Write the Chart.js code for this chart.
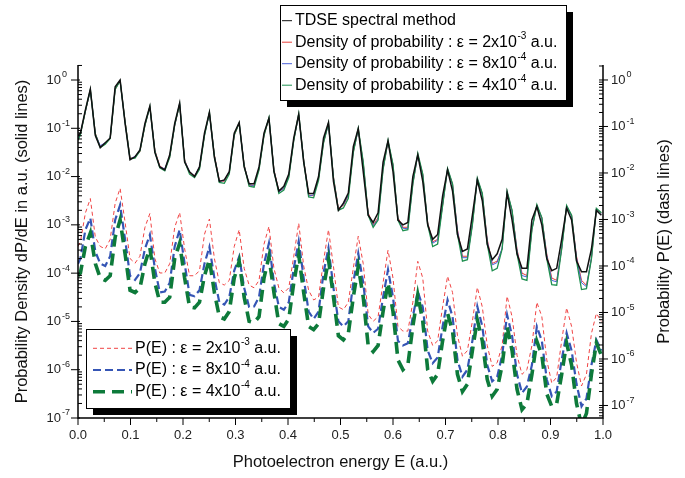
<!DOCTYPE html>
<html>
<head>
<meta charset="utf-8">
<script src="https://cdn.jsdelivr.net/npm/chart.js@4.4.1/dist/chart.umd.min.js"></script>
<style>
  html, body { margin: 0; padding: 0; background: #fff; }
  #wrap { width: 685px; height: 478px; }
</style>
</head>
<body>
<div id="wrap"><canvas id="plot" width="685" height="478"></canvas></div>
<script>
// photoelectron energy grid (a.u.)
const energies = [
  0, 0.0046, 0.0141, 0.0235, 0.0330, 0.0424, 0.0519, 0.0613, 0.0708, 0.0802, 0.0897,
  0.0991, 0.1086, 0.1180, 0.1275, 0.1369, 0.1464, 0.1558, 0.1653, 0.1747, 0.1842,
  0.1936, 0.2031, 0.2125, 0.2220, 0.2314, 0.2409, 0.2503, 0.2598, 0.2692, 0.2787,
  0.2881, 0.2976, 0.3070, 0.3165, 0.3259, 0.3354, 0.3448, 0.3543, 0.3637, 0.3732,
  0.3826, 0.3921, 0.4015, 0.4110, 0.4204, 0.4299, 0.4393, 0.4488, 0.4582, 0.4677,
  0.4771, 0.4866, 0.4960, 0.5055, 0.5149, 0.5244, 0.5338, 0.5433, 0.5527, 0.5622,
  0.5716, 0.5811, 0.5905, 0.6000, 0.6094, 0.6189, 0.6283, 0.6378, 0.6472, 0.6567,
  0.6661, 0.6756, 0.6850, 0.6945, 0.7039, 0.7134, 0.7228, 0.7323, 0.7417, 0.7512,
  0.7606, 0.7701, 0.7795, 0.7890, 0.7984, 0.8079, 0.8173, 0.8268, 0.8362, 0.8457,
  0.8551, 0.8646, 0.8740, 0.8835, 0.8929, 0.9024, 0.9118, 0.9213, 0.9307, 0.9402,
  0.9496, 0.9591, 0.9685, 0.9780, 0.9874, 0.9969
];

// all series below are stored as log10 of the value

// dP/dE, TDSE spectral method (left axis)
const tdseLog = [
  -1.15, -1.1, -0.62, -0.19, -1.15, -1.4, -1.3, -1.2, -0.14, 0, -0.9,
  -1.65, -1.59, -1.45, -0.9, -0.54, -1.5, -1.8, -1.86, -1.55, -0.9,
  -0.48, -1.7, -1.9, -2.0, -1.8, -1.1, -0.67, -1.6, -2.1, -2.07,
  -1.9, -1.1, -0.88, -1.8, -2.15, -2.15, -1.8, -1.1, -0.79, -1.9,
  -2.3, -2.2, -1.95, -1.2, -0.71, -1.7, -2.35, -2.35, -2.0, -1.2,
  -0.88, -2.1, -2.7, -2.55, -2.34, -1.38, -1.01, -1.9, -2.8, -2.95,
  -2.75, -1.7, -1.26, -1.9, -2.9, -3.0, -2.95, -2.0, -1.55, -2.1,
  -3.0, -3.3, -3.2, -2.4, -1.86, -2.3, -3.2, -3.55, -3.5, -2.8,
  -2.07, -2.5, -3.4, -3.72, -3.6, -3.3, -2.34, -2.9, -3.6, -3.9,
  -3.9, -2.9, -2.62, -3.0, -3.7, -3.95, -3.9, -3.3, -2.65, -2.9,
  -3.75, -3.97, -3.97, -3.5, -2.7, -2.8
];

// dP/dE, eps = 2e-3
const densRedLog = [
  -1.2, -1.12, -0.66, -0.2, -1.1, -1.38, -1.32, -1.22, -0.2, -0.02, -0.85,
  -1.62, -1.6, -1.48, -0.95, -0.55, -1.45, -1.78, -1.85, -1.6, -0.95,
  -0.5, -1.65, -1.92, -1.98, -1.82, -1.15, -0.68, -1.55, -2.08, -2.1,
  -1.92, -1.15, -0.9, -1.75, -2.18, -2.18, -1.85, -1.15, -0.8, -1.85,
  -2.3, -2.25, -2.0, -1.25, -0.72, -1.65, -2.38, -2.4, -2.05, -1.3,
  -0.9, -2.0, -2.65, -2.6, -2.4, -1.5, -1.02, -1.7, -2.75, -3.0,
  -2.85, -1.85, -1.28, -1.75, -2.85, -3.05, -3.05, -2.15, -1.55, -1.95,
  -2.95, -3.35, -3.3, -2.6, -1.85, -2.15, -3.1, -3.65, -3.65, -3.0,
  -2.05, -2.35, -3.3, -3.8, -3.75, -3.5, -2.32, -2.7, -3.5, -4.0,
  -4.05, -3.1, -2.6, -2.85, -3.6, -4.1, -4.15, -3.5, -2.62, -2.8,
  -3.65, -4.15, -4.25, -3.7, -2.68, -2.75
];

// dP/dE, eps = 8e-4
const densBlueLog = [
  -1.22, -1.1, -0.65, -0.21, -1.12, -1.36, -1.3, -1.2, -0.18, -0.01, -0.88,
  -1.64, -1.58, -1.46, -0.93, -0.56, -1.47, -1.8, -1.84, -1.58, -0.94,
  -0.49, -1.67, -1.9, -1.99, -1.8, -1.14, -0.69, -1.57, -2.1, -2.08,
  -1.9, -1.13, -0.89, -1.77, -2.16, -2.2, -1.83, -1.13, -0.79, -1.87,
  -2.32, -2.24, -1.98, -1.24, -0.73, -1.67, -2.4, -2.38, -2.03, -1.28,
  -0.91, -2.02, -2.68, -2.58, -2.38, -1.48, -1.03, -1.72, -2.78, -3.02,
  -2.88, -1.83, -1.27, -1.77, -2.88, -3.07, -3.08, -2.13, -1.56, -1.97,
  -2.98, -3.38, -3.32, -2.58, -1.84, -2.17, -3.12, -3.68, -3.68, -2.98,
  -2.04, -2.37, -3.33, -3.83, -3.78, -3.48, -2.31, -2.72, -3.53, -4.05,
  -4.08, -3.08, -2.59, -2.87, -3.63, -4.15, -4.18, -3.48, -2.61, -2.82,
  -3.68, -4.2, -4.28, -3.68, -2.67, -2.77
];

// dP/dE, eps = 4e-4
const densGreenLog = [
  -1.25, -1.13, -0.64, -0.2, -1.12, -1.4, -1.33, -1.21, -0.19, -0.02, -0.87,
  -1.63, -1.62, -1.47, -0.94, -0.55, -1.48, -1.82, -1.88, -1.6, -0.93,
  -0.5, -1.68, -1.95, -2.02, -1.85, -1.15, -0.67, -1.58, -2.12, -2.14,
  -1.95, -1.14, -0.89, -1.78, -2.2, -2.22, -1.86, -1.15, -0.78, -1.88,
  -2.35, -2.28, -2.02, -1.25, -0.7, -1.68, -2.42, -2.44, -2.08, -1.3,
  -0.89, -2.03, -2.7, -2.65, -2.45, -1.5, -1.0, -1.7, -2.8, -3.05,
  -2.9, -1.85, -1.25, -1.75, -2.9, -3.12, -3.1, -2.15, -1.52, -1.95,
  -3.0, -3.45, -3.4, -2.6, -1.83, -2.15, -3.2, -3.75, -3.72, -3.0,
  -2.03, -2.35, -3.4, -3.95, -3.9, -3.5, -2.3, -2.7, -3.6, -4.12,
  -4.15, -3.1, -2.58, -2.85, -3.7, -4.24, -4.25, -3.5, -2.6, -2.8,
  -3.75, -4.34, -4.32, -3.7, -2.66, -2.75
];

// P(E) on the right axis, eps = 2e-3
const probRedLog = [
  -3.58, -3.48, -2.86, -2.55, -3.38, -3.58, -3.63, -3.43, -2.65, -2.33, -3.06,
  -3.84, -3.94, -3.79, -3.17, -2.87, -3.84, -4.15, -4.15, -3.95, -3.17,
  -2.85, -3.63, -4.21, -4.21, -4.10, -3.32, -2.99, -3.84, -4.36, -4.41,
  -4.31, -3.58, -3.22, -4.05, -4.41, -4.47, -4.31, -3.53, -3.15, -4.05,
  -4.47, -4.58, -4.47, -3.79, -3.08, -4.00, -4.52, -4.73, -4.67, -3.89,
  -3.22, -4.01, -4.88, -4.94, -4.78, -4.05, -3.36, -3.95, -5.04, -5.19,
  -5.09, -4.36, -3.66, -4.26, -5.30, -5.40, -5.40, -4.78, -3.90, -4.26,
  -5.40, -5.71, -5.61, -4.88, -4.22, -4.57, -5.50, -5.94, -5.82, -5.19,
  -4.46, -4.88, -5.71, -6.16, -6.08, -5.71, -4.65, -5.09, -5.92, -6.33,
  -6.23, -5.71, -4.78, -5.09, -6.02, -6.52, -6.39, -5.61, -4.90, -5.30,
  -6.08, -6.58, -6.33, -5.45, -5.02, -5.19
];

// P(E), eps = 8e-4
const probBlueLog = [
  -3.95, -3.84, -3.22, -2.97, -3.69, -3.95, -4.00, -3.79, -3.01, -2.69, -3.43,
  -4.21, -4.30, -4.15, -3.63, -3.33, -4.05, -4.57, -4.55, -4.36, -3.58,
  -3.22, -3.95, -4.62, -4.65, -4.52, -3.95, -3.59, -4.26, -4.78, -4.83,
  -4.67, -4.10, -3.80, -4.47, -4.88, -4.87, -4.67, -3.95, -3.51, -4.36,
  -4.88, -4.94, -4.78, -4.05, -3.47, -4.26, -4.98, -5.14, -4.98, -4.15,
  -3.61, -4.47, -5.19, -5.30, -5.19, -4.36, -3.73, -4.36, -5.30, -5.44,
  -5.35, -4.67, -4.08, -4.67, -5.61, -5.71, -5.66, -5.09, -4.55, -4.88,
  -5.82, -6.09, -5.97, -5.30, -4.73, -5.09, -6.02, -6.38, -6.23, -5.61,
  -4.87, -5.30, -6.13, -6.48, -6.39, -5.92, -5.05, -5.50, -6.33, -6.73,
  -6.59, -6.13, -5.30, -5.61, -6.44, -6.80, -6.70, -6.02, -5.44, -5.82,
  -6.54, -7.02, -6.85, -6.13, -5.59, -5.82
];

// P(E), eps = 4e-4
const probGreenLog = [
  -4.21, -4.15, -3.58, -3.29, -3.95, -4.26, -4.31, -4.21, -3.38, -3.01, -3.74,
  -4.52, -4.57, -4.47, -3.95, -3.61, -4.36, -4.78, -4.78, -4.67, -3.84,
  -3.51, -4.26, -4.88, -4.90, -4.78, -4.21, -3.86, -4.57, -5.09, -5.14,
  -4.98, -4.26, -3.90, -4.67, -5.19, -5.22, -5.09, -4.26, -3.80, -4.57,
  -5.24, -5.30, -5.14, -4.36, -3.76, -4.57, -5.30, -5.37, -5.24, -4.47,
  -3.86, -4.67, -5.50, -5.59, -5.45, -4.67, -4.01, -4.67, -5.71, -5.84,
  -5.71, -4.98, -4.36, -4.98, -6.02, -6.23, -6.13, -5.30, -4.62, -5.19,
  -6.23, -6.48, -6.33, -5.61, -5.02, -5.40, -6.33, -6.70, -6.54, -5.82,
  -5.16, -5.61, -6.44, -6.80, -6.65, -6.13, -5.30, -5.82, -6.65, -7.09,
  -6.96, -6.33, -5.62, -5.92, -6.75, -7.02, -6.96, -6.33, -5.66, -6.13,
  -6.96, -7.43, -7.17, -6.33, -5.66, -5.92
];

// axis ticks
const xTicks = [0, 0.1, 0.2, 0.3, 0.4, 0.5, 0.6, 0.7, 0.8, 0.9, 1.0];
const xTickLabels = ["0.0", "0.1", "0.2", "0.3", "0.4", "0.5", "0.6", "0.7", "0.8", "0.9", "1.0"];
const xMinorTicks = [0.05, 0.15, 0.25, 0.35, 0.45, 0.55, 0.65, 0.75, 0.85, 0.95];
const decadeExps = [0, -1, -2, -3, -4, -5, -6, -7];

const leftTitle = "Probability Density dP/dE in a.u. (solid lines)";
const rightTitle = "Probability P(E) (dash lines)";
const xTitle = "Photoelectron energy E (a.u.)";

// legend texts: [before superscript, superscript, after]
const solidLegend = [
  ["TDSE spectral method", "", ""],
  ["Density of probability : \u03b5 = 2x10", "-3", " a.u."],
  ["Density of probability : \u03b5 = 8x10", "-4", " a.u."],
  ["Density of probability : \u03b5 = 4x10", "-4", " a.u."]
];
const dashLegend = [
  ["P(E) : \u03b5 = 2x10", "-3", " a.u."],
  ["P(E) : \u03b5 = 8x10", "-4", " a.u."],
  ["P(E) : \u03b5 = 4x10", "-4", " a.u."]
];

const FONT = '"Liberation Sans", Arial, sans-serif';

const style = {
  black: { color: "#111111", width: 1.5, dash: [] },
  red: { color: "#e8403a", width: 1, dash: [] },
  blue: { color: "#4a62d8", width: 1, dash: [] },
  green: { color: "#1f9050", width: 1.3, dash: [] },
  redDash: { color: "#f04444", width: 1, dash: [4, 3] },
  blueDash: { color: "#3555b5", width: 2.2, dash: [8, 4] },
  greenDash: { color: "#0d7a3a", width: 3.6, dash: [12, 7] }
};

function toPoints(logs) {
  return logs.map((v, i) => ({ x: energies[i], y: Math.pow(10, v) }));
}

function lineSet(logs, st, axis) {
  return {
    data: toPoints(logs),
    yAxisID: axis,
    borderColor: st.color,
    borderWidth: st.width,
    borderDash: st.dash,
    pointRadius: 0,
    tension: 0,
    fill: false
  };
}

function seg(ctx, x1, y1, x2, y2) {
  ctx.beginPath();
  ctx.moveTo(x1, y1);
  ctx.lineTo(x2, y2);
  ctx.stroke();
}

// text with a raised exponent part
function richText(ctx, x, y, parts, size) {
  const [a, sup, b] = parts;
  ctx.textAlign = "left";
  ctx.textBaseline = "middle";
  ctx.font = size + "px " + FONT;
  ctx.fillText(a, x, y);
  x += ctx.measureText(a).width;
  if (sup) {
    ctx.font = Math.round(size * 0.62) + "px " + FONT;
    ctx.fillText(sup, x + 0.5, y - size * 0.38);
    x += ctx.measureText(sup).width + 0.5;
    ctx.font = size + "px " + FONT;
    ctx.fillText(b, x, y);
  }
}

function legendBox(ctx, x, y, w, h) {
  ctx.fillStyle = "#000";
  ctx.fillRect(x + 7, y + 7, w, h);
  ctx.fillStyle = "#fff";
  ctx.fillRect(x, y, w, h);
  ctx.strokeStyle = "#000";
  ctx.lineWidth = 1;
  ctx.setLineDash([]);
  ctx.strokeRect(x + 0.5, y + 0.5, w, h);
}

function sample(ctx, st, x1, x2, y) {
  ctx.strokeStyle = st.color;
  ctx.lineWidth = st.width;
  ctx.setLineDash(st.dash);
  seg(ctx, x1, y, x2, y);
  ctx.setLineDash([]);
}

const decor = {
  id: "decor",
  afterDraw(chart) {
    const ctx = chart.ctx;
    const a = chart.chartArea;
    const xs = chart.scales.x, yl = chart.scales.y, yr = chart.scales.y2;
    ctx.save();
    ctx.strokeStyle = "#000";
    ctx.fillStyle = "#222";
    ctx.lineWidth = 1;

    // x axis ticks and labels
    ctx.font = "13px " + FONT;
    ctx.textAlign = "center";
    ctx.textBaseline = "middle";
    xTicks.forEach((v, i) => {
      const px = xs.getPixelForValue(v);
      seg(ctx, px, a.bottom, px, a.bottom + 7);
      ctx.fillText(xTickLabels[i], px, a.bottom + 17);
    });
    xMinorTicks.forEach(v => {
      const px = xs.getPixelForValue(v);
      seg(ctx, px, a.bottom, px, a.bottom + 4);
    });

    // log minor ticks
    for (let e = -8; e <= 0; e++) {
      for (let m = 2; m <= 9; m++) {
        const v = m * Math.pow(10, e);
        if (v > yl.min && v < yl.max) {
          const py = yl.getPixelForValue(v);
          seg(ctx, a.left, py, a.left + 4, py);
        }
        if (v > yr.min && v < yr.max) {
          const py = yr.getPixelForValue(v);
          seg(ctx, a.right - 4, py, a.right, py);
        }
      }
    }

    // decade ticks and labels
    decadeExps.forEach(e => {
      const v = Math.pow(10, e);
      let py = yl.getPixelForValue(v);
      seg(ctx, a.left - 7, py, a.left + 2, py);
      ctx.font = "13px " + FONT;
      ctx.textAlign = "right";
      ctx.fillText("10", 61, py);
      ctx.font = "9px " + FONT;
      ctx.textAlign = "left";
      ctx.fillText(String(e), 62, py - 5);

      py = yr.getPixelForValue(v);
      seg(ctx, a.right - 4, py, a.right + 5, py);
      ctx.font = "13px " + FONT;
      ctx.fillText("10", 611, py);
      const w = ctx.measureText("10").width;
      ctx.font = "9px " + FONT;
      ctx.fillText(String(e), 611 + w + 1, py - 5);
    });

    // axis lines
    ctx.lineWidth = 1.5;
    ctx.beginPath();
    ctx.moveTo(a.left, a.top);
    ctx.lineTo(a.left, a.bottom);
    ctx.lineTo(a.right, a.bottom);
    ctx.lineTo(a.right, a.top);
    ctx.stroke();

    // axis titles
    ctx.fillStyle = "#111";
    ctx.font = "16.5px " + FONT;
    ctx.textAlign = "center";
    ctx.textBaseline = "middle";
    ctx.fillText(xTitle, (a.left + a.right) / 2, 462);
    const midY = (a.top + a.bottom) / 2;
    ctx.save();
    ctx.translate(22, midY);
    ctx.rotate(-Math.PI / 2);
    ctx.fillText(leftTitle, 0, 0);
    ctx.restore();
    ctx.save();
    ctx.translate(664, midY);
    ctx.rotate(-Math.PI / 2);
    ctx.fillText(rightTitle, 0, 0);
    ctx.restore();

    // legend of the solid lines
    const solidStyles = [style.black, style.red, style.blue, style.green];
    legendBox(ctx, 280, 5, 286, 95);
    solidLegend.forEach((parts, i) => {
      const y = 20.7 + i * 21.5;
      sample(ctx, { color: solidStyles[i].color, width: 1, dash: [] }, 282, 292, y);
      ctx.fillStyle = "#000";
      richText(ctx, 295, y, parts, 16);
    });

    // legend of the dash lines
    const dashStyles = [style.redDash, style.blueDash, style.greenDash];
    legendBox(ctx, 86, 329, 204, 79);
    dashLegend.forEach((parts, i) => {
      const y = 348.3 + i * 21.7;
      sample(ctx, dashStyles[i], 93, 132, y);
      ctx.fillStyle = "#000";
      richText(ctx, 135, y, parts, 16);
    });

    ctx.restore();
  }
};

new Chart(document.getElementById("plot").getContext("2d"), {
  type: "line",
  data: {
    datasets: [
      lineSet(tdseLog, style.black, "y"),
      lineSet(densGreenLog, style.green, "y"),
      lineSet(densBlueLog, style.blue, "y"),
      lineSet(densRedLog, style.red, "y"),
      lineSet(probGreenLog, style.greenDash, "y2"),
      lineSet(probBlueLog, style.blueDash, "y2"),
      lineSet(probRedLog, style.redDash, "y2")
    ]
  },
  options: {
    responsive: false,
    devicePixelRatio: 1,
    animation: false,
    layout: { padding: { top: 65 } },
    plugins: { legend: { display: false }, tooltip: { enabled: false } },
    scales: {
      x: {
        type: "linear", min: 0, max: 1,
        ticks: { display: false }, grid: { display: false }, border: { display: false },
        afterFit(s) { s.height = 60; }
      },
      y: {
        type: "logarithmic", position: "left", min: 1e-7, max: 2.045,
        ticks: { display: false }, grid: { display: false }, border: { display: false },
        afterFit(s) { s.width = 78; }
      },
      y2: {
        type: "logarithmic", position: "right", min: 5.38e-8, max: 2.1,
        ticks: { display: false }, grid: { display: false }, border: { display: false },
        afterFit(s) { s.width = 82; }
      }
    }
  },
  plugins: [decor]
});
</script>
</body>
</html>
